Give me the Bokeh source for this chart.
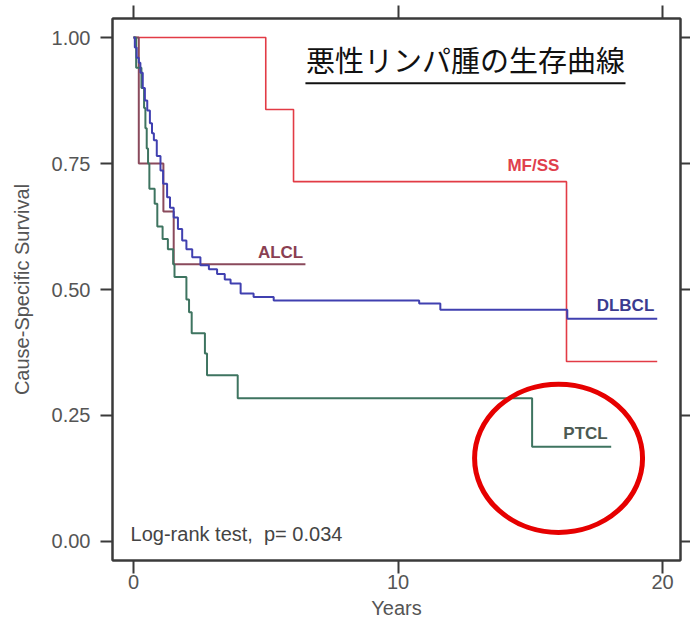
from bokeh.plotting import figure
from bokeh.models import (Range1d, FixedTicker, NumeralTickFormatter, LinearAxis,
                          Label)
from bokeh.embed import file_html
from bokeh.resources import INLINE

# ---- data ----
mfss_t = [0, 5.0, 6.05, 16.37, 19.8]
mfss_s = [1.0, 0.857, 0.714, 0.357, 0.357]

alcl_t = [0, 0.2, 1.13, 1.52, 6.5]
alcl_s = [1.0, 0.75, 0.655, 0.55, 0.55]

dlbcl_t = [0, 0.05, 0.12, 0.2, 0.26, 0.35, 0.43, 0.52, 0.62, 0.7, 0.77, 0.88,
           1.02, 1.12, 1.27, 1.38, 1.52, 1.68, 1.84, 2.0, 2.22, 2.53, 2.85,
           3.16, 3.45, 3.67, 4.05, 4.54, 5.3, 10.8, 11.6, 16.4, 19.8]
dlbcl_s = [1.0, 0.98, 0.96, 0.95, 0.93, 0.90, 0.875, 0.855, 0.83, 0.81, 0.796,
           0.765, 0.736, 0.71, 0.683, 0.662, 0.643, 0.62, 0.597, 0.58, 0.564,
           0.548, 0.54, 0.531, 0.52, 0.512, 0.492, 0.485, 0.478, 0.472, 0.46,
           0.442, 0.442]

ptcl_t = [0, 0.1, 0.3, 0.4, 0.45, 0.5, 0.55, 0.6, 0.8, 0.9, 1.1, 1.3, 1.5,
          1.55, 2.0, 2.1, 2.2, 2.7, 2.78, 3.94, 15.07, 18.06]
ptcl_s = [1.0, 0.94, 0.90, 0.86, 0.82, 0.78, 0.75, 0.70, 0.67, 0.625, 0.60,
          0.58, 0.55, 0.525, 0.48, 0.455, 0.413, 0.373, 0.33, 0.284, 0.188,
          0.188]

y_ticks = [0.0, 0.25, 0.5, 0.75, 1.0]
x_ticks = [0, 10, 20]

title_text = "悪性リンパ腫の生存曲線"
x_label = "Years"
y_label = "Cause-Specific Survival"
note_text = "Log-rank test,\u00a0 p= 0.034"

# ---- figure ----
FONT = "Liberation Sans"
AX = "#3a3a3a"
TXT = "#555555"

p = figure(width=690, height=622, x_range=Range1d(-0.794, 20.68),
           y_range=Range1d(-0.0377, 1.0377), output_backend="svg",
           toolbar_location=None, min_border_left=112, min_border_right=10,
           min_border_top=18, min_border_bottom=62)
p.grid.visible = False
p.outline_line_color = AX
p.outline_line_width = 2
p.background_fill_color = "white"

# left axis
ya = p.yaxis[0]
ya.ticker = FixedTicker(ticks=y_ticks)
ya.formatter = NumeralTickFormatter(format="0.00")
ya.major_tick_out = 12
ya.major_tick_in = 0
ya.minor_tick_out = 0
ya.minor_tick_in = 0
ya.major_tick_line_width = 2
ya.major_tick_line_color = AX
ya.axis_line_color = AX
ya.axis_line_width = 2
ya.major_label_standoff = 10
ya.major_label_text_font = FONT
ya.major_label_text_font_size = "20px"
ya.major_label_text_color = TXT
ya.axis_label = y_label
ya.axis_label_text_font = FONT
ya.axis_label_text_font_size = "20px"
ya.axis_label_text_font_style = "normal"
ya.axis_label_text_color = TXT
ya.axis_label_standoff = 16

# bottom axis
xa = p.xaxis[0]
xa.ticker = FixedTicker(ticks=x_ticks)
xa.major_tick_out = 13
xa.major_tick_in = 0
xa.minor_tick_out = 0
xa.minor_tick_in = 0
xa.major_tick_line_width = 2
xa.major_tick_line_color = AX
xa.axis_line_color = AX
xa.axis_line_width = 2
xa.major_label_standoff = 1
xa.major_label_text_font = FONT
xa.major_label_text_font_size = "20px"
xa.major_label_text_color = TXT
xa.axis_label = x_label
xa.axis_label_text_font = FONT
xa.axis_label_text_font_size = "20px"
xa.axis_label_text_font_style = "normal"
xa.axis_label_text_color = TXT
xa.axis_label_standoff = 5

# top axis (ticks only)
ta = LinearAxis(ticker=FixedTicker(ticks=x_ticks), major_tick_out=13,
                major_tick_in=0, minor_tick_out=0, minor_tick_in=0,
                major_label_overrides={t: "" for t in x_ticks},
                major_label_text_font_size="1px", major_label_standoff=0,
                major_tick_line_width=2, major_tick_line_color=AX,
                axis_line_color=AX, axis_line_width=2)
p.add_layout(ta, "above")

# right axis (ticks only)
ra = LinearAxis(ticker=FixedTicker(ticks=y_ticks), major_tick_out=10,
                major_tick_in=0, minor_tick_out=0, minor_tick_in=0,
                major_label_overrides={t: "" for t in y_ticks},
                major_label_text_font_size="1px", major_label_standoff=0,
                major_tick_line_width=2, major_tick_line_color=AX,
                axis_line_color=AX, axis_line_width=2)
p.add_layout(ra, "right")

# ---- curves ----
p.step(mfss_t, mfss_s, mode="after", line_color="#e23b45", line_width=1.6)
p.step(alcl_t, alcl_s, mode="after", line_color="#8a4a5c", line_width=2)
p.step(ptcl_t, ptcl_s, mode="after", line_color="#3e7460", line_width=2)
p.step(dlbcl_t, dlbcl_s, mode="after", line_color="#4040b0", line_width=2)

# ---- curve labels ----
def lab(x, y, t, c, size="17px", bold=True, font=FONT, align="center",
        baseline="alphabetic"):
    p.add_layout(Label(x=x, y=y, text=t, text_color=c, text_font=font,
                       text_font_size=size,
                       text_font_style="bold" if bold else "normal",
                       text_align=align, text_baseline=baseline))

lab(15.12, 0.747, "MF/SS", "#e0404c")
lab(5.56, 0.574, "ALCL", "#8a3f52")
lab(18.6, 0.469, "DLBCL", "#3b3b8f")
lab(17.09, 0.215, "PTCL", "#4c5a52")
lab(-0.11, 0.014, note_text, "#444444", size="20px", bold=False, align="left")

# title with underline
lab(12.55, 0.958, title_text, "#111111", size="29px", bold=False,
    font="Noto Sans CJK JP", baseline="middle")
p.segment(x0=[6.5], y0=[0.909], x1=[18.6], y1=[0.909], line_color="#111111",
          line_width=2)

# red highlight ellipse
p.ellipse(x=[16.07], y=[0.165], width=[6.35], height=[0.294],
          fill_color=None, line_color="#e60000", line_width=5)

open("out.html", "w").write(file_html(p, INLINE))
